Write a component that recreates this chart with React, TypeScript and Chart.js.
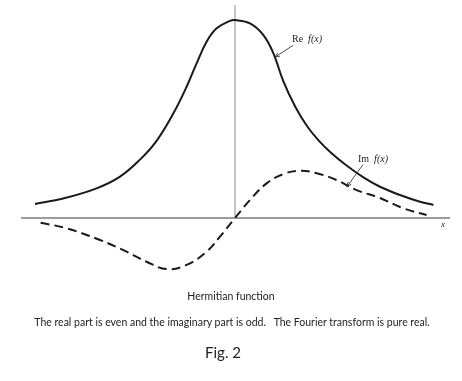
import React, { useEffect, useRef } from "react";
import { Chart, registerables } from "chart.js";

Chart.register(...registerables);

// Real part (even)
const reX = [-5.0, -4.29, -3.46, -2.875, -2.375, -1.96, -1.54, -1.21, -0.96, -0.71, -0.46, -0.125, 0, 0.375, 0.71, 0.96, 1.21, 1.5, 1.8, 2.1, 2.4, 2.79, 3.21, 3.625, 4.125, 4.625, 4.96];
const reY = [0.071, 0.099, 0.15, 0.209, 0.295, 0.39, 0.529, 0.663, 0.781, 0.89, 0.958, 0.996, 1.0, 0.983, 0.924, 0.832, 0.69, 0.565, 0.465, 0.39, 0.33, 0.265, 0.205, 0.158, 0.116, 0.082, 0.066];

// Imaginary part (odd)
const imX = [-4.86, -4.21, -3.375, -2.71, -2.21, -1.71, -1.21, -0.71, -0.375, -0.04, 0.375, 0.79, 1.21, 1.625, 2.04, 2.54, 3.04, 3.625, 4.21, 4.79];
const imY = [-0.024, -0.052, -0.111, -0.17, -0.221, -0.258, -0.237, -0.17, -0.094, -0.01, 0.091, 0.175, 0.222, 0.239, 0.226, 0.192, 0.141, 0.101, 0.049, 0.015];

// Axis extents
const xAxisRange = [-5.35, 5.375];
const yAxisRange = [0, 1.076];
const yView = [-0.3, 1.076];

// Annotation anchors (data coordinates)
const reLabel = { x: 1.425, y: 0.889, from: [1.45, 0.872], to: [1.0, 0.813] };
const imLabel = { x: 3.075, y: 0.283, from: [3.2, 0.27], to: [2.8, 0.158] };
const xLabel = { x: 5.2, y: -0.045 };

const captionTitle = "Hermitian function";
const captionText = "The real part is even and the imaginary part is odd.   The Fourier transform is pure real.";
const figLabel = "Fig. 2";

export default function App() {
  const ref = useRef<HTMLCanvasElement>(null);

  useEffect(() => {
    const annot = {
      id: "annot",
      afterDatasetsDraw(chart: any) {
        const { ctx, scales } = chart;
        const sx = scales.x;
        const sy = scales.y;
        const px = (v: number) => sx.getPixelForValue(v);
        const py = (v: number) => sy.getPixelForValue(v);
        ctx.save();
        ctx.fillStyle = "#222";
        ctx.textBaseline = "alphabetic";
        const drawFx = (prefix: string, x: number, y: number) => {
          ctx.font = "10px 'Liberation Serif', serif";
          ctx.fillText(prefix + " ", x, y);
          const w = ctx.measureText(prefix + "  ").width;
          ctx.font = "italic 10px 'Liberation Serif', serif";
          ctx.fillText("f(x)", x + w, y);
        };
        drawFx("Re", px(reLabel.x), py(reLabel.y));
        drawFx("Im", px(imLabel.x), py(imLabel.y));
        ctx.font = "italic 9px 'Liberation Serif', serif";
        ctx.textAlign = "center";
        ctx.fillText("x", px(xLabel.x), py(xLabel.y));

        const arrow = (from: number[], to: number[]) => {
          const x1 = px(from[0]), y1 = py(from[1]);
          const x2 = px(to[0]), y2 = py(to[1]);
          ctx.strokeStyle = "#333";
          ctx.lineWidth = 0.9;
          ctx.beginPath();
          ctx.moveTo(x1, y1);
          ctx.lineTo(x2, y2);
          const a = Math.atan2(y2 - y1, x2 - x1);
          const L = 5;
          ctx.moveTo(x2, y2);
          ctx.lineTo(x2 - L * Math.cos(a - 0.4), y2 - L * Math.sin(a - 0.4));
          ctx.moveTo(x2, y2);
          ctx.lineTo(x2 - L * Math.cos(a + 0.4), y2 - L * Math.sin(a + 0.4));
          ctx.stroke();
        };
        arrow(reLabel.from, reLabel.to);
        arrow(imLabel.from, imLabel.to);
        ctx.restore();
      },
    };

    const chart = new Chart(ref.current as HTMLCanvasElement, {
      type: "line",
      data: {
        datasets: [
          {
            label: "Re f(x)",
            data: reX.map((x, i) => ({ x, y: reY[i] })),
            borderColor: "#1a1a1a",
            borderWidth: 2,
            pointRadius: 0,
            tension: 0.4,
            fill: false,
            order: 0,
          },
          {
            label: "Im f(x)",
            data: imX.map((x, i) => ({ x, y: imY[i] })),
            borderColor: "#1a1a1a",
            borderWidth: 2,
            borderDash: [9, 5],
            pointRadius: 0,
            tension: 0.4,
            fill: false,
            order: 1,
          },
          {
            label: "x axis",
            data: [{ x: xAxisRange[0], y: 0 }, { x: xAxisRange[1], y: 0 }],
            borderColor: "#7a7a7a",
            borderWidth: 1.5,
            pointRadius: 0,
            order: 5,
          },
          {
            label: "y axis",
            data: [{ x: 0, y: yAxisRange[0] }, { x: 0, y: yAxisRange[1] }],
            borderColor: "#8a8a8a",
            borderWidth: 1,
            pointRadius: 0,
            order: 6,
          },
        ],
      } as any,
      options: {
        animation: false,
        responsive: true,
        maintainAspectRatio: false,
        layout: { padding: { left: 21, right: 12, top: 5, bottom: 12.6 } },
        plugins: { legend: { display: false }, tooltip: { enabled: false } },
        scales: {
          x: { type: "linear", min: xAxisRange[0], max: xAxisRange[1], display: false },
          y: { type: "linear", min: yView[0], max: yView[1], display: false },
        },
      } as any,
      plugins: [annot],
    });
    return () => chart.destroy();
  }, []);

  const capFont = "Lato, 'Open Sans', sans-serif";
  return (
    <div style={{ position: "fixed", left: 0, top: 0, width: 462, height: 381, background: "#fff" }}>
      <div style={{ position: "absolute", left: 0, top: 0, width: 462, height: 290 }}>
        <canvas ref={ref} />
      </div>
      <div style={{ position: "absolute", left: 0, width: 462, top: 289, textAlign: "center", font: `10.5px ${capFont}`, color: "#222", lineHeight: "14px" }}>
        {captionTitle}
      </div>
      <div style={{ position: "absolute", left: 0, width: 464, top: 315, textAlign: "center", font: `10.5px ${capFont}`, color: "#222", lineHeight: "14px", whiteSpace: "pre" }}>
        {captionText}
      </div>
      <div style={{ position: "absolute", left: 0, width: 446, top: 343, textAlign: "center", font: `15px ${capFont}`, color: "#222", lineHeight: "18px" }}>
        {figLabel}
      </div>
    </div>
  );
}
